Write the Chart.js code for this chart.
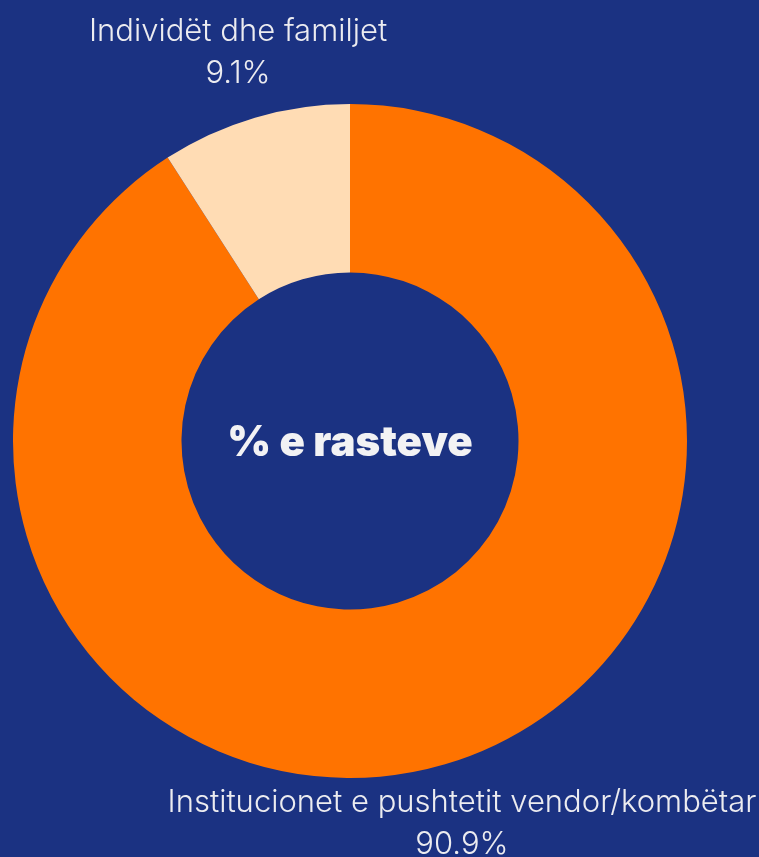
<!DOCTYPE html>
<html>
<head>
<meta charset="utf-8">
<script src="https://cdn.jsdelivr.net/npm/chart.js@4"></script>
<style>
    html, body { margin: 0; padding: 0; background: #1b3282; }
    #wrap { width: 759px; height: 857px; position: relative; }
</style>
</head>
<body>
<div id="wrap"><canvas id="donutChart"></canvas></div>
<script>
const categories = ['Institucionet e pushtetit vendor/kombëtar', 'Individët dhe familjet'];
const shares = [90.9, 9.1];
const sliceColors = ['#ff7300', '#ffdcb4'];
const centerTitle = '% e rasteve';

// labels outside each slice: name then percentage
const sliceLabels = {
    id: 'sliceLabels',
    afterDraw(chart) {
        const ctx = chart.ctx;
        const meta = chart.getDatasetMeta(0);
        ctx.save();
        ctx.fillStyle = '#ececf0';
        ctx.textAlign = 'center';
        ctx.textBaseline = 'middle';
        ctx.font = '300 31px Inter, "Open Sans", sans-serif';
        meta.data.forEach((arc, i) => {
            const p = arc.getProps(['startAngle', 'endAngle', 'x', 'y', 'outerRadius'], true);
            const mid = (p.startAngle + p.endAngle) / 2;
            const r = p.outerRadius + 60;
            const x = p.x + Math.cos(mid) * r;
            let y = p.y + Math.sin(mid) * r;
            y += Math.sin(mid) < 0 ? -7 : 2;
            ctx.fillText(categories[i], x, y - 21);
            ctx.fillText(shares[i].toFixed(1) + '%', x, y + 21);
        });
        ctx.restore();
    }
};

const centerText = {
    id: 'centerText',
    afterDraw(chart) {
        const ctx = chart.ctx;
        const arc = chart.getDatasetMeta(0).data[0];
        ctx.save();
        ctx.fillStyle = '#f2f2f4';
        ctx.textAlign = 'center';
        ctx.textBaseline = 'middle';
        ctx.font = '900 42px Inter, Lato, sans-serif';
        ctx.fillText(centerTitle, arc.x, arc.y + 2);
        ctx.restore();
    }
};

new Chart(document.getElementById('donutChart'), {
    type: 'doughnut',
    data: {
        labels: categories,
        datasets: [{
            data: shares,
            backgroundColor: sliceColors,
            borderWidth: 0
        }]
    },
    options: {
        responsive: true,
        maintainAspectRatio: false,
        animation: false,
        cutout: '50%',
        layout: { padding: { left: 13, right: 72, top: 104, bottom: 79 } },
        plugins: {
            legend: { display: false },
            tooltip: { enabled: false }
        }
    },
    plugins: [sliceLabels, centerText]
});
</script>
</body>
</html>
